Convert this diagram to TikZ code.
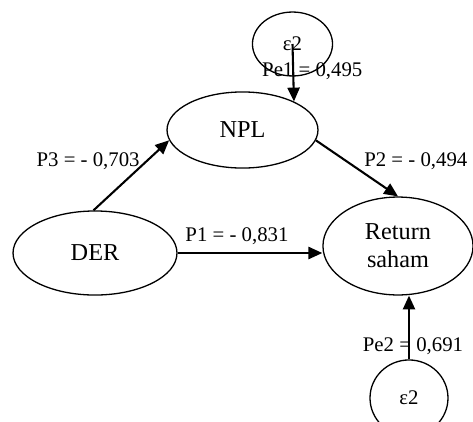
\documentclass[tikz,border=0pt]{standalone}
\usepackage{fontspec}
\setmainfont{Liberation Serif}
\usepackage{tikz}
\usetikzlibrary{shapes,arrows.meta,positioning,calc}

\begin{document}
\begin{tikzpicture}[
    x=0.577pt, y=-0.577pt,
    varnode/.style={ellipse, draw, line width=0.75pt, inner sep=0pt, align=center, font=\fontsize{14}{16}\selectfont},
    errnode/.style={ellipse, draw, line width=0.75pt, inner sep=0pt, font=\fontsize{12}{14}\selectfont},
    coef/.style={font=\fontsize{12}{14}\selectfont},
    arrow/.style={-{Triangle[length=8pt,width=7pt]}, line width=1.2pt}
]
\useasboundingbox (0,0) rectangle (473,421);

\node [varnode, minimum width=94.6pt, minimum height=48.5pt] (der) at (95,253) {DER};
\node [varnode, minimum width=87.1pt, minimum height=43.9pt] (npl) at (242.5,130) {NPL};
\node [varnode, minimum width=86.6pt, minimum height=56.5pt] (ret) at (398,246) {Return\\saham};
\node [errnode, minimum width=46.2pt, minimum height=36.9pt] (e1) at (292.5,44) {ε2};
\node [errnode, minimum width=45pt, minimum height=43.9pt] (e2) at (409,398) {ε2};

\draw [arrow] (der.92) -- node[coef, left, pos=0.7] (lp3) {P3 = - 0,703} (npl.188);
\draw [arrow] (npl.-8) -- node[coef, right=6pt, pos=0.38] (lp2) {P2 = - 0,494} (ret.north);
\draw [arrow] (der.east) -- node[coef, above=1pt, pos=0.41] (lp1) {P1 = - 0,831} (der.east -| ret.west);
\draw [arrow] (e1.center) -- node[coef, pos=0.48, xshift=11pt] (lpe1) {Pe1 = 0,495} (npl.29);
\draw [arrow] (e2.north) -- node[coef, pos=0.2, xshift=2.3pt] (lpe2) {Pe2 = 0,691} (e2.north |- ret.south);

\end{tikzpicture}
\end{document}
